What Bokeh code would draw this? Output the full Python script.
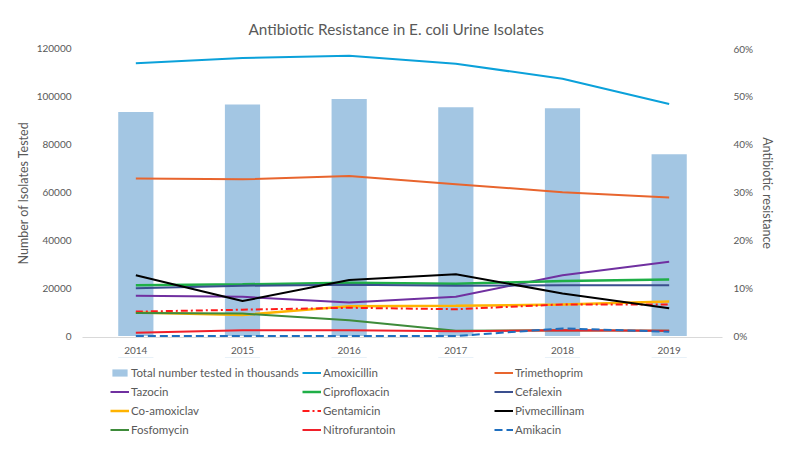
from bokeh.plotting import figure
from bokeh.layouts import column
from bokeh.models import (Range1d, FactorRange, LinearAxis, Legend, LegendItem,
                          PrintfTickFormatter, FixedTicker)
from bokeh.embed import file_html
from bokeh.resources import INLINE

years = ["2014", "2015", "2016", "2017", "2018", "2019"]
total_tested = [93550, 96600, 98950, 95500, 95100, 75900]

amoxicillin = [56.9, 58.0, 58.5, 56.8, 53.7, 48.4]
trimethoprim = [32.9, 32.7, 33.4, 31.7, 30.0, 28.9]
tazocin = [8.4, 8.2, 7.0, 8.2, 12.7, 15.5]
ciprofloxacin = [10.6, 10.8, 11.1, 10.9, 11.5, 11.8]
cefalexin = [10.0, 10.5, 10.7, 10.5, 10.6, 10.6]
co_amoxiclav = [4.9, 4.4, 6.2, 6.3, 6.6, 7.2]
gentamicin = [5.1, 5.5, 5.9, 5.6, 6.6, 6.6]
pivmecillinam = [12.7, 7.3, 11.7, 12.9, 8.9, 5.8]
fosfomycin = [4.8, 4.7, 3.3, 1.1, 1.2, 1.1]
nitrofurantoin = [0.7, 1.2, 1.2, 1.0, 1.2, 1.1]
amikacin = [0.0, 0.0, 0.0, 0.0, 1.6, 0.9]

left_ticks = [0, 20000, 40000, 60000, 80000, 100000, 120000]
right_ticks = [0, 10, 20, 30, 40, 50, 60]

FONT = "Lato"
TXT = "#595959"
BAR_COLOR = "#A3C6E3"
BAR_LABEL = "Total number tested in thousands"

series = [
    ("Amoxicillin", amoxicillin, "#0BA1DA", None, 2),
    ("Trimethoprim", trimethoprim, "#E8652E", None, 2),
    ("Tazocin", tazocin, "#7030A0", None, 2),
    ("Ciprofloxacin", ciprofloxacin, "#1FAF47", None, 2.5),
    ("Cefalexin", cefalexin, "#3A4F8E", None, 2),
    ("Co-amoxiclav", co_amoxiclav, "#FFB300", None, 2.5),
    ("Gentamicin", gentamicin, "#FF1A1A", "7 3 2 3", 2),
    ("Pivmecillinam", pivmecillinam, "#000000", None, 2),
    ("Fosfomycin", fosfomycin, "#3E8B3A", None, 2),
    ("Nitrofurantoin", nitrofurantoin, "#F0202A", None, 2),
    ("Amikacin", amikacin, "#1F6FBF", "8 4", 2),
]

# ---------------- main chart ----------------
p = figure(width=780, height=357, x_range=FactorRange(*years), y_range=Range1d(-600, 120000),
           output_backend="svg", toolbar_location=None,
           min_border_left=82, min_border_right=58, min_border_top=48, min_border_bottom=20)
p.outline_line_color = None
p.xgrid.grid_line_color = None
p.ygrid.grid_line_color = None
p.x_range.range_padding = 0
p.extra_y_ranges = {"pct": Range1d(-0.3, 60)}

p.title.text = "Antibiotic Resistance in E. coli Urine Isolates"
p.title.align = "left"
p.title.offset = 166
p.title.text_font = FONT
p.title.text_font_size = "15.3px"
p.title.text_font_style = "normal"
p.title.text_color = TXT
p.title.standoff = 21

p.vbar(x=years, top=total_tested, width=0.33, fill_color=BAR_COLOR, line_color=None)
for name, vals, color, dash, lw in series:
    kw = dict(line_color=color, line_width=lw, y_range_name="pct")
    if dash:
        kw["line_dash"] = dash
    p.line(x=years, y=vals, **kw)

def style_axis(ax, standoff):
    ax.major_tick_line_color = None
    ax.minor_tick_line_color = None
    ax.major_tick_out = 0
    ax.major_tick_in = 0
    ax.minor_tick_out = 0
    ax.minor_tick_in = 0
    ax.major_label_text_font = FONT
    ax.major_label_text_font_size = "10px"
    ax.major_label_text_color = TXT
    ax.major_label_standoff = standoff
    ax.axis_label_text_font = FONT
    ax.axis_label_text_font_size = "12.5px"
    ax.axis_label_text_font_style = "normal"
    ax.axis_label_text_color = TXT

xa = p.xaxis[0]
style_axis(xa, 9)
xa.axis_line_color = "#D9D9D9"

ya = p.yaxis[0]
style_axis(ya, 11)
ya.ticker = FixedTicker(ticks=left_ticks)
ya.formatter = PrintfTickFormatter(format="%d")
ya.axis_line_color = None
ya.axis_label = "Number of Isolates Tested"
ya.axis_label_standoff = 3

ra = LinearAxis(y_range_name="pct", ticker=FixedTicker(ticks=right_ticks),
                formatter=PrintfTickFormatter(format="%d%%"))
style_axis(ra, 11)
ra.axis_line_color = None
ra.axis_label = "Antibiotic resistance"
ra.axis_label_standoff = 4
p.add_layout(ra, "right")

# ---------------- legend strip ----------------
# the legend figure shows the same series, scrolled out of view, so that only its legend is seen
lg_fig = figure(width=780, height=85, x_range=FactorRange(*years), y_range=Range1d(-2, -1),
                output_backend="svg", toolbar_location=None,
                x_axis_location=None, y_axis_location=None,
                min_border_left=0, min_border_right=0, min_border_top=0, min_border_bottom=0)
lg_fig.outline_line_color = None
lg_fig.xgrid.grid_line_color = None
lg_fig.ygrid.grid_line_color = None

proxies = {BAR_LABEL: lg_fig.vbar(x=years, top=total_tested, width=0.33,
                                  fill_color=BAR_COLOR, line_color=None)}
for name, vals, color, dash, lw in series:
    kw = dict(line_color=color, line_width=lw)
    if dash:
        kw["line_dash"] = dash
    proxies[name] = lg_fig.line(x=years, y=vals, **kw)

legend_order = [BAR_LABEL, "Amoxicillin", "Trimethoprim",
                "Tazocin", "Ciprofloxacin", "Cefalexin",
                "Co-amoxiclav", "Gentamicin", "Pivmecillinam",
                "Fosfomycin", "Nitrofurantoin", "Amikacin"]
items = [LegendItem(label=n, renderers=[proxies[n]]) for n in legend_order]
lg = Legend(items=items, location=(28, 3), orientation="horizontal", ncols=3,
            padding=0, margin=0, spacing=0,
            glyph_width=19, glyph_height=9, label_height=19, label_width=171,
            label_standoff=2,
            border_line_color=None, background_fill_alpha=0,
            label_text_font=FONT, label_text_font_size="11.5px", label_text_color=TXT)
lg_fig.add_layout(lg, "center")

layout = column(p, lg_fig)
open("out.html", "w").write(file_html(layout, INLINE))
